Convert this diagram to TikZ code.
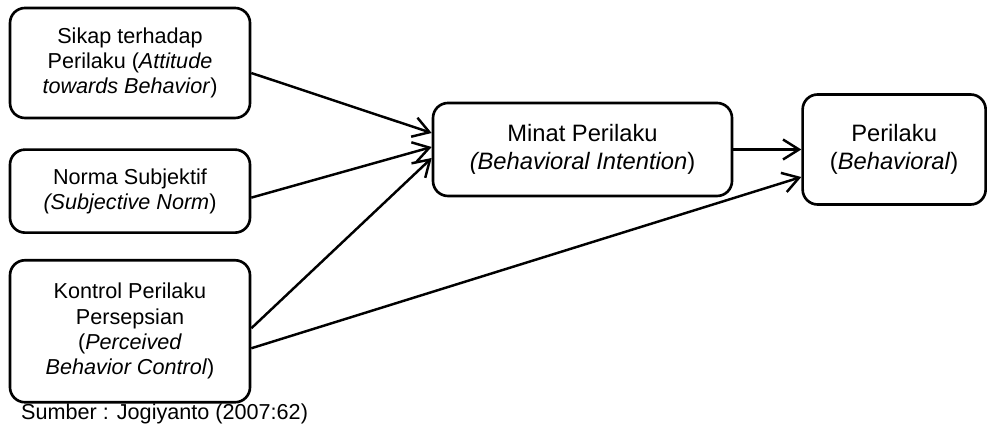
\documentclass[tikz,border=0pt]{standalone}
\usepackage{fontspec}
\setmainfont{Liberation Sans}
\usepackage{tikz}
\usetikzlibrary{arrows.meta}
\usetikzlibrary{positioning}
\newcommand{\fkiri}{\fontsize{12.3}{14.4}\selectfont}
\newcommand{\fkanan}{\fontsize{13.5}{16.3}\selectfont}
\tikzset{
  kotak/.style = {align=center, inner sep=0pt, draw=black,
    rounded corners=0.3cm, line width=1.5pt},
  var_x/.style = {kotak, font=\fkiri, minimum width=4.8cm},% variabel kiri
  var_y/.style = {kotak, font=\fkanan}% variabel kanan
}

\begin{document}
\begin{tikzpicture}[->,>={Straight Barb[length=0.32cm,width=0.4cm]},
  line width=1.4pt]
\useasboundingbox (0,0) rectangle (19.78,-8.5);
\node [var_x, minimum height=2.2cm] (sikap) at (2.6,-1.26)
  {Sikap terhadap\\Perilaku (\textit{Attitude}\\\textit{towards Behavior})};
\node [var_x, minimum height=1.66cm, below=0.58cm of sikap] (norma)
  {Norma Subjektif\\\textit{(Subjective Norm})};
\node [var_x, minimum height=2.84cm, below=0.5cm of norma] (kontrol)
  {Kontrol Perilaku\\Persepsian\\(\textit{Perceived}\\\textit{Behavior Control})};
\node [var_y, minimum width=5.98cm, minimum height=1.86cm] (minat) at (11.65,-2.99)
  {Minat Perilaku\\\textit{(Behavioral Intention})};
\node [var_y, minimum width=3.66cm, minimum height=2.2cm, right=1.36cm of minat] (perilaku)
  {Perilaku\\(\textit{Behavioral})};
\node [anchor=base west, inner sep=0pt, font=\fkiri] (sumber) at (0.4,-8.4)
  {Sumber : Jogiyanto (2007:62)};

\draw ([yshift=-0.2cm]sikap.east) -- ([yshift=0.33cm]minat.west);
\draw ([yshift=-0.13cm]norma.east) -- ([yshift=0.05cm]minat.west);
\draw ([yshift=0.06cm]kontrol.east) -- ([yshift=-0.17cm]minat.west);
\draw ([yshift=-0.34cm]kontrol.east) -- ([yshift=-0.55cm]perilaku.west);
\draw (minat.east) -- (minat.east -| perilaku.west);
%\draw (sikap) -- (minat);
\end{tikzpicture}
\end{document}
